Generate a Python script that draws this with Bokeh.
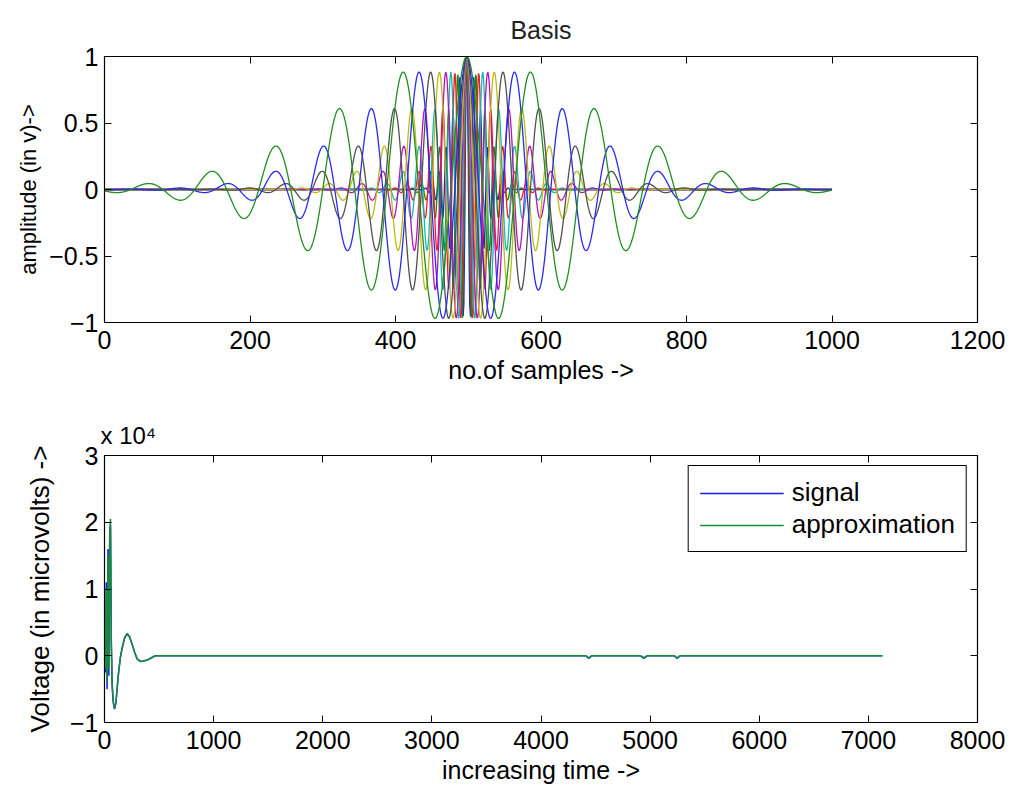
import numpy as np
from bokeh.plotting import figure
from bokeh.layouts import column
from bokeh.models import LinearAxis, FixedTicker, Range1d
from bokeh.embed import file_html
from bokeh.resources import INLINE

# ---------------- data: top panel (basis atoms) ----------------
atom_center = 498                       # sample index of the common centre
atom_periods = [9.5, 12.5, 16.5, 22, 29, 38, 50, 66, 88]   # oscillation period of each atom (samples)
atom_envelope_ratio = 2.0               # gaussian width / period, read from side-lobe heights (0.88, 0.61, 0.32 ...)
atom_colors = ["#1a1aff", "#108a10", "#ff1a1a", "#10b8b8", "#b814b8",
               "#bcbc10", "#505050", "#2a2af0", "#1f8f1f"]
sample_first, sample_last = 0, 1000

top_x_ticks = [0, 200, 400, 600, 800, 1000, 1200]
top_y_ticks = [-1, -0.5, 0, 0.5, 1]
top_y_labels = ["\u22121", "\u22120.5", "0", "0.5", "1"]

# ---------------- data: bottom panel (signal / approximation) ----------------
time_pts = [0, 8, 16, 24, 32, 40, 48, 55, 62, 70, 80, 92, 105, 118, 131, 146, 162,
            185, 208, 230, 254, 278, 300, 330, 360, 391, 430, 467,
            4410, 4438, 4466, 4910, 4942, 4975, 5220, 5248, 5276, 7128]
signal_uv = [0, -2500, 11000, -5000, 16000, -3000, 19000, 19500, 2000, -4500, -7000,
             -8000, -7000, -4500, -2200, -200, 1200, 2700, 3300, 2800, 1700, 400,
             -500, -850, -800, -650, -300, 0,
             0, -400, 0, 0, -400, 0, 0, -400, 0, 0]
approx_uv = [0, -2000, 10000, -4000, 15000, -2000, 18500, 20500, 3000, -4000, -6800,
             -7900, -7000, -4500, -2200, -200, 1200, 2700, 3300, 2800, 1700, 400,
             -500, -850, -800, -650, -300, 0,
             0, -300, 0, 0, -300, 0, 0, -300, 0, 0]

bot_x_ticks = [0, 1000, 2000, 3000, 4000, 5000, 6000, 7000, 8000]
bot_y_ticks = [-10000, 0, 10000, 20000, 30000]
bot_y_labels = ["\u22121", "0", "1", "2", "3"]
bot_scale_text = "x 10\u2074"

FONT = "Liberation Sans"
TICK_FS = "25px"
LABEL_FS = "25px"


def style(p, xticks, yticks, ylabels, vlabel_fs):
    p.xgrid.visible = False
    p.ygrid.visible = False
    p.outline_line_color = "black"
    p.outline_line_width = 1.2
    p.outline_line_alpha = 1
    p.xaxis.ticker = FixedTicker(ticks=xticks)
    p.yaxis.ticker = FixedTicker(ticks=yticks)
    p.yaxis.major_label_overrides = {t: l for t, l in zip(yticks, ylabels)}
    for ax in p.xaxis + p.yaxis:
        ax.axis_line_color = "black"
        ax.major_tick_in = 7
        ax.major_tick_out = 0
        ax.minor_tick_line_color = None
        ax.major_tick_line_color = "black"
        ax.major_label_text_font = FONT
        ax.major_label_text_font_size = TICK_FS
        ax.major_label_text_color = "black"
        ax.axis_label_text_font = FONT
        ax.axis_label_text_font_style = "normal"
        ax.axis_label_text_color = "black"
    p.xaxis.axis_label_text_font_size = LABEL_FS
    p.yaxis.axis_label_text_font_size = vlabel_fs
    p.xaxis.major_label_standoff = 8
    p.xaxis.axis_label_standoff = 4
    p.yaxis.major_label_standoff = 6
    # ticks on top and right (labels blanked)
    top = LinearAxis(ticker=FixedTicker(ticks=xticks),
                     major_label_overrides={t: "" for t in xticks},
                     major_tick_in=7, major_tick_out=0, minor_tick_line_color=None,
                     major_label_standoff=0, axis_line_color="black")
    right = LinearAxis(ticker=FixedTicker(ticks=yticks),
                       major_label_overrides={t: "" for t in yticks},
                       major_tick_in=7, major_tick_out=0, minor_tick_line_color=None,
                       major_label_standoff=0, axis_line_color="black")
    p.add_layout(top, "above")
    p.add_layout(right, "right")


# ---------------- top figure ----------------
p1 = figure(width=1010, height=400, x_range=Range1d(0, 1200), y_range=Range1d(-1, 1),
            output_backend="svg", toolbar_location=None,
            min_border_left=104, min_border_right=33, min_border_top=55, min_border_bottom=78,
            title="Basis")
p1.title.align = "center"
p1.title.text_font = FONT
p1.title.text_font_size = "25px"
p1.title.text_font_style = "normal"
p1.title.text_color = "#222222"
p1.title.standoff = 26
p1.xaxis.axis_label = "no.of samples ->"
p1.yaxis.axis_label = "amplitude (in v)->"
style(p1, top_x_ticks, top_y_ticks, top_y_labels, "22px")

t = np.arange(sample_first, sample_last + 1)
for T, col in zip(atom_periods, atom_colors):
    d = t - atom_center
    y = np.exp(-d ** 2 / (2 * (atom_envelope_ratio * T) ** 2)) * np.cos(2 * np.pi * d / T)
    p1.line(t, y, line_color=col, line_width=1.3)

# ---------------- bottom figure ----------------
p2 = figure(width=1010, height=396, x_range=Range1d(0, 8000), y_range=Range1d(-10000, 30000),
            output_backend="svg", toolbar_location=None,
            min_border_left=104, min_border_right=33, min_border_top=55, min_border_bottom=74,
            title=bot_scale_text)
p2.title.align = "left"
p2.title.text_font = FONT
p2.title.text_font_size = "24px"
p2.title.text_font_style = "normal"
p2.title.text_color = "black"
p2.title.offset = -4
p2.title.standoff = 14
p2.xaxis.axis_label = "increasing time ->"
p2.yaxis.axis_label = "Voltage (in microvolts) ->"
style(p2, bot_x_ticks, bot_y_ticks, bot_y_labels, "26px")
p2.yaxis.axis_label_standoff = 12

p2.line(time_pts, signal_uv, line_color="#1a1aff", line_width=1.5, legend_label="signal")
p2.line(time_pts, approx_uv, line_color="#168a3a", line_width=1.5, legend_label="approximation")

lg = p2.legend[0]
lg.location = "top_right"
lg.margin = 10
lg.padding = 11
lg.spacing = 1
lg.glyph_width = 84
lg.glyph_height = 30
lg.label_standoff = 8
lg.label_text_font = FONT
lg.label_text_font_size = "26px"
lg.label_text_color = "black"
lg.border_line_color = "black"
lg.border_line_alpha = 1
lg.border_line_width = 1.3
lg.background_fill_color = "white"
lg.background_fill_alpha = 1

layout = column(p1, p2, spacing=0)
open("out.html", "w").write(file_html(layout, INLINE))
